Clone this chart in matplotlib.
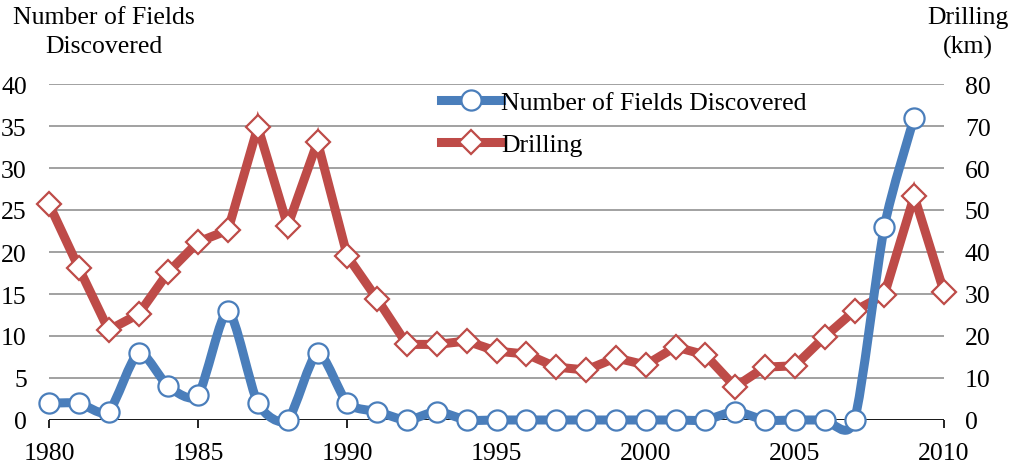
import numpy as np
import matplotlib
matplotlib.use("Agg")
import matplotlib.pyplot as plt
from matplotlib.path import Path
from matplotlib.patches import PathPatch
from matplotlib.lines import Line2D

years = list(range(1980, 2011))
# Number of fields discovered (left axis), 1980-2009
fields = [2, 2, 1, 8, 4, 3, 13, 2, 0, 8,
          2, 1, 0, 1, 0, 0, 0, 0, 0, 0,
          0, 0, 0, 1, 0, 0, 0, 0, 23, 36]
# Drilling in km (right axis), 1980-2010
drilling = [51.4, 36.2, 21.4, 25.2, 35.2, 42.4, 45.2, 69.8, 46.2, 66.2,
            39.0, 28.8, 18.0, 18.0, 18.8, 16.4, 15.7, 12.6, 11.9, 14.8,
            13.1, 17.4, 15.5, 7.9, 12.6, 12.9, 19.8, 26.0, 29.8, 53.3, 30.5]

BLUE = "#4a7ebb"
RED = "#be4b48"
LW = 6.5

plt.rcParams["font.family"] = ["Liberation Serif", "DejaVu Serif"]
plt.rcParams["font.size"] = 18.5


def smooth_path(xs, ys, t=0.12):
    """Bezier path through the points, like a spreadsheet 'smoothed line'."""
    pts = np.column_stack([xs, ys]).astype(float)
    n = len(pts)
    verts = [pts[0]]
    codes = [Path.MOVETO]
    for i in range(n - 1):
        p0 = pts[max(i - 1, 0)]
        p1 = pts[i]
        p2 = pts[i + 1]
        p3 = pts[min(i + 2, n - 1)]
        verts += [p1 + (p2 - p0) * t, p2 - (p3 - p1) * t, p2]
        codes += [Path.CURVE4] * 3
    return Path(verts, codes)


fig = plt.figure(figsize=(10.09, 4.77), dpi=100)
W, H = 1009, 477
x0, x1, y0, y1 = 49, 944, 85, 421
ax2 = fig.add_axes([x0 / W, 1 - y1 / H, (x1 - x0) / W, (y1 - y0) / H])
ax = ax2.twinx()
ax2.yaxis.tick_right()
ax.yaxis.tick_left()
ax2.set_zorder(1)
ax.set_zorder(2)
ax.patch.set_visible(False)

# drilling (right scale) underneath, with the gridlines
ax2.set_ylim(0, 80)
ax2.set_xlim(1980, 2010)
ax2.set_yticks(range(0, 81, 10))
ax2.grid(axis="y", color="#9a9a9a", linewidth=1.3)
ax2.set_axisbelow(True)
ax2.plot(years, drilling, color=RED, linewidth=LW, marker="D", markersize=12,
         markerfacecolor="white", markeredgecolor=RED, markeredgewidth=1.6,
         solid_joinstyle="miter", zorder=3, clip_on=False)

# fields discovered (left scale), smoothed line on top
ax.set_ylim(0, 40)
ax.set_xlim(1980, 2010)
ax.set_yticks(range(0, 41, 5))
ax.axhline(0, color="black", linewidth=1.2, zorder=1)
ax.add_patch(PathPatch(smooth_path(years[:len(fields)], fields), fill=False,
                       edgecolor=BLUE, linewidth=LW, capstyle="round",
                       joinstyle="round", zorder=3, clip_on=False))
ax.plot(years[:len(fields)], fields, linestyle="none", marker="o", markersize=14.5,
        markerfacecolor="white", markeredgecolor=BLUE, markeredgewidth=1.6,
        zorder=4, clip_on=False)

for a in (ax, ax2):
    for s in a.spines.values():
        s.set_visible(False)
ax2.tick_params(axis="y", length=0, pad=15, labelright=True, labelleft=False)
ax.tick_params(axis="y", length=0, pad=16, labelleft=True, labelright=False)
ax2.set_xticks(range(1980, 2011, 5))
ax2.tick_params(axis="x", length=6, width=1.2, color="black", pad=10)
ax.tick_params(axis="x", bottom=False, labelbottom=False)

handles = [
    Line2D([], [], color=BLUE, linewidth=LW, marker="o", markersize=14.5,
           markerfacecolor="white", markeredgecolor=BLUE, markeredgewidth=1.6),
    Line2D([], [], color=RED, linewidth=LW, marker="D", markersize=12,
           markerfacecolor="white", markeredgecolor=RED, markeredgewidth=1.6),
]
ax.legend(handles, ["Number of Fields Discovered", "Drilling"],
          loc="upper left", bbox_to_anchor=(441 / W, 1 - 92 / H),
          bbox_transform=fig.transFigure, frameon=False, borderpad=0,
          borderaxespad=0, handlelength=2.35, handletextpad=0.0,
          labelspacing=0.75)

fig.text(104 / W, 1 - 7 / H, "Number of Fields\nDiscovered", ha="center",
         va="top", linespacing=1.4)
fig.text(968 / W, 1 - 7 / H, "Drilling\n(km)", ha="center", va="top",
         linespacing=1.4)

fig.savefig("out.png", dpi=100)
